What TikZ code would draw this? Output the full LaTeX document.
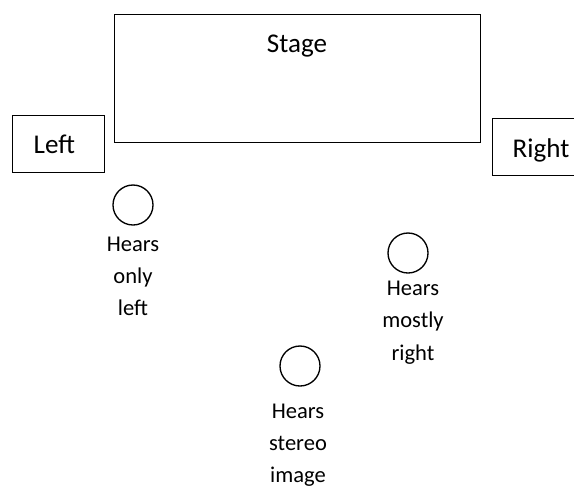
\documentclass[tikz,border=0pt]{standalone}
\usepackage{fontspec}
\setmainfont{Carlito}
\begin{document}
\begin{tikzpicture}[x=0.75pt,y=-0.75pt,line width=1pt,
  boxnode/.style={draw,rectangle,inner sep=0pt},
  bigtext/.style={font=\fontsize{20.3}{24}\selectfont,inner sep=0pt,anchor=base},
  listener/.style={draw,circle,minimum size=30pt,inner sep=0pt},
  caption/.style={font=\fontsize{16.9}{24.2}\selectfont,align=center,inner sep=0pt,anchor=north}]
\useasboundingbox (0,0) rectangle (574,486);
% stage
\node[boxnode,anchor=north west,minimum width=274.9pt,minimum height=96pt] (stage) at (113.5,14) {};
\node[bigtext] (stagetext) at (297,52) {Stage};
% speakers
\node[boxnode,anchor=north west,minimum width=69pt,minimum height=42.75pt] (left) at (12,115) {};
\node[bigtext,anchor=base west] (lefttext) at (33,153) {Left};
\node[boxnode,anchor=north west,minimum width=69pt,minimum height=42.75pt] (right) at (491.7,118) {};
\node[bigtext,anchor=base west] (righttext) at (512,157) {Right};
% listeners
\node[listener] (l1) at (133,205) {};
\node[caption] (c1) at (133,236) {Hears\\only\\left};
\node[listener] (l2) at (408,253) {};
\node[caption] (c2) at (413,280.5) {Hears\\mostly\\right};
\node[listener] (l3) at (300,366) {};
\node[caption] (c3) at (298,403) {Hears\\stereo\\image};
\end{tikzpicture}
\end{document}
